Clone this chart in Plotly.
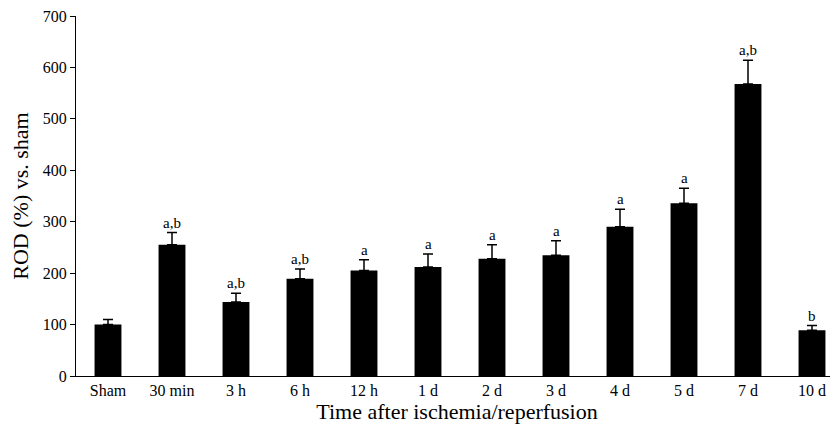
import plotly.graph_objects as go

categories = ["Sham", "30 min", "3 h", "6 h", "12 h", "1 d", "2 d", "3 d", "4 d", "5 d", "7 d", "10 d"]
values = [100, 255, 144, 189, 205, 212, 228, 235, 290, 336, 568, 89]
errors = [10, 24, 17, 19, 21, 25, 27, 28, 34, 29, 46, 9]
sig_labels = ["", "a,b", "a,b", "a,b", "a", "a", "a", "a", "a", "a", "a,b", "b"]
y_ticks = [0, 100, 200, 300, 400, 500, 600, 700]

x_idx = list(range(len(categories)))
FONT = "Liberation Serif"

fig = go.Figure()
fig.add_trace(go.Bar(
    x=x_idx, y=values, width=0.42,
    marker=dict(color="black", line=dict(color="black", width=0)),
    error_y=dict(type="data", array=errors, arrayminus=[0] * len(errors),
                 symmetric=False, color="black", thickness=1.5, width=5),
))

for i, (v, e, s) in enumerate(zip(values, errors, sig_labels)):
    if s:
        fig.add_annotation(x=i, y=v + e, text=s, showarrow=False,
                           yanchor="bottom", yshift=0,
                           font=dict(family=FONT, size=15, color="black"))

# page body adds an 8px margin; figure sized/margined to compensate
fig.update_layout(
    width=830, height=424,
    margin=dict(l=68, r=0, t=8, b=56, autoexpand=False),
    plot_bgcolor="white", paper_bgcolor="white",
    showlegend=False,
    font=dict(family=FONT, color="black"),
)
fig.update_xaxes(
    range=[-0.5, -0.5 + 762 / 64], tickmode="array", tickvals=x_idx, ticktext=categories,
    showline=True, linecolor="black", linewidth=1,
    ticks="inside", ticklen=5, tickcolor="black", tickson="boundaries",
    showgrid=False, zeroline=False, automargin=False, ticklabeloverflow="allow",
    tickfont=dict(family=FONT, size=16, color="black"),
    title=dict(text="Time after ischemia/reperfusion", standoff=4,
               font=dict(family=FONT, size=22, color="black")),
)
fig.update_yaxes(
    range=[0, 700], tickmode="array", tickvals=y_ticks,
    showline=True, linecolor="black", linewidth=1,
    ticks="outside", ticklen=5, tickcolor="black",
    showgrid=False, zeroline=False, automargin=False, ticklabeloverflow="allow",
    tickfont=dict(family=FONT, size=16, color="black"),
    title=dict(text="ROD (%) vs. sham", standoff=10,
               font=dict(family=FONT, size=22, color="black")),
)

fig.write_html("out.html")
